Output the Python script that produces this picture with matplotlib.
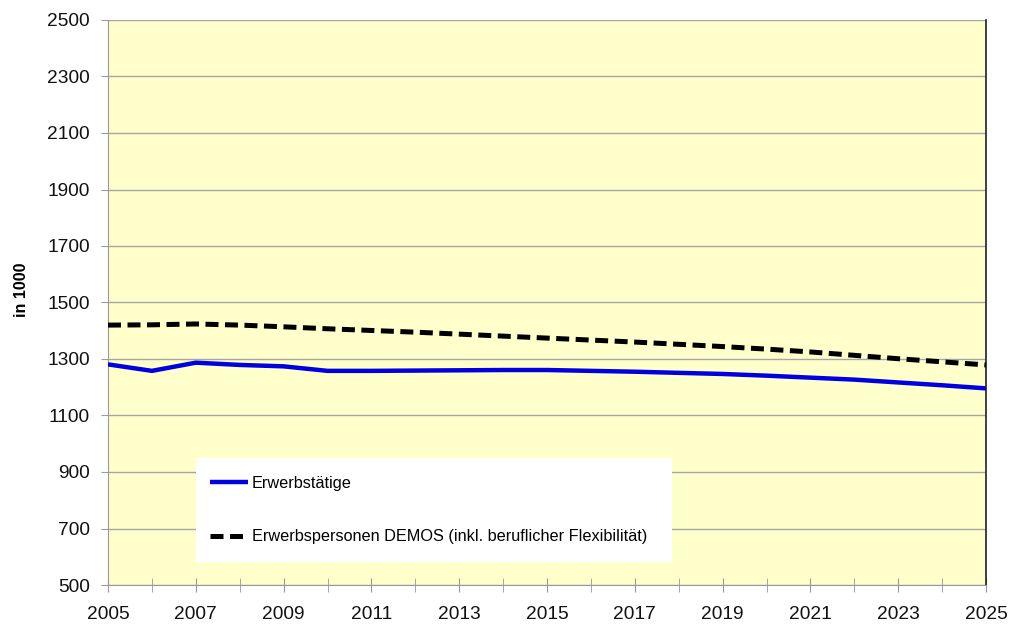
import matplotlib
matplotlib.use("Agg")
import matplotlib.pyplot as plt
from matplotlib.patches import Rectangle
from matplotlib.ticker import MultipleLocator

years = list(range(2005, 2026))
erwerbstaetige = [1281, 1258, 1287, 1279, 1274, 1258, 1258, 1259, 1260, 1261, 1261,
                  1258, 1255, 1251, 1247, 1241, 1234, 1227, 1217, 1207, 1196]
erwerbspersonen = [1420, 1421, 1424, 1420, 1414, 1407, 1401, 1395, 1388, 1381, 1374,
                   1367, 1360, 1352, 1344, 1335, 1325, 1313, 1301, 1290, 1279]
x_ticks = list(range(2005, 2026, 2))
y_ticks = list(range(500, 2501, 200))
label_a = "Erwerbstätige"
label_b = "Erwerbspersonen DEMOS (inkl. beruflicher Flexibilität)"
y_label = "in 1000"

plt.rcParams['font.family'] = ['Liberation Sans', 'DejaVu Sans']

W, H = 1010, 627
fig = plt.figure(figsize=(W / 100, H / 100), dpi=100)
ax = fig.add_axes([108 / W, 1 - 585 / H, (986 - 108) / W, (585 - 20) / H])
ax.set_facecolor('#FFFFCC')

ax.set_xlim(2005, 2025)
ax.set_ylim(500, 2500)
ax.set_yticks(y_ticks)
ax.set_xticks(x_ticks)
ax.xaxis.set_minor_locator(MultipleLocator(1))
ax.grid(axis='y', which='major', color='#A6A6A6', linewidth=1.0, zorder=1)
ax.set_axisbelow(True)

for s in ['left', 'bottom']:
    ax.spines[s].set_color('#9A9A9A')
ax.spines['top'].set_visible(False)
ax.spines['right'].set_color('#202020')
ax.spines['right'].set_linewidth(1.2)

ax.tick_params(axis='both', which='both', color='#9A9A9A',
               labelsize=13.8, labelcolor='#111111')
ax.tick_params(axis='y', direction='out', length=5, pad=8)
ax.tick_params(axis='x', which='both', direction='inout', length=10, pad=10)

ax.plot(years, erwerbstaetige, color='#0000E0', linewidth=3.2, zorder=3,
        solid_capstyle='butt', label=label_a)
ax.plot(years, erwerbspersonen, color='black', linewidth=3.6, zorder=3,
        dashes=(2.6, 1.3), label=label_b)

ax.set_ylabel(y_label, fontsize=11.5, fontweight='bold')
ax.yaxis.set_label_coords((29 - 108) / 878, (585 - 290) / 565)

# legend box
x0, x1 = 196, 672
yb, yt = 562, 458
fig.patches.append(Rectangle((x0 / W, 1 - yb / H), (x1 - x0) / W, (yb - yt) / H,
                             transform=fig.transFigure, facecolor='white',
                             edgecolor='none', zorder=5))
leg = fig.legend(loc='upper left', bbox_to_anchor=(202 / W, 1 - 468 / H),
                 frameon=False, fontsize=11.7, labelspacing=2.35,
                 handlelength=2.3, handletextpad=0.25, borderpad=0)
leg.set_zorder(6)

fig.savefig('out.png', dpi=100)
